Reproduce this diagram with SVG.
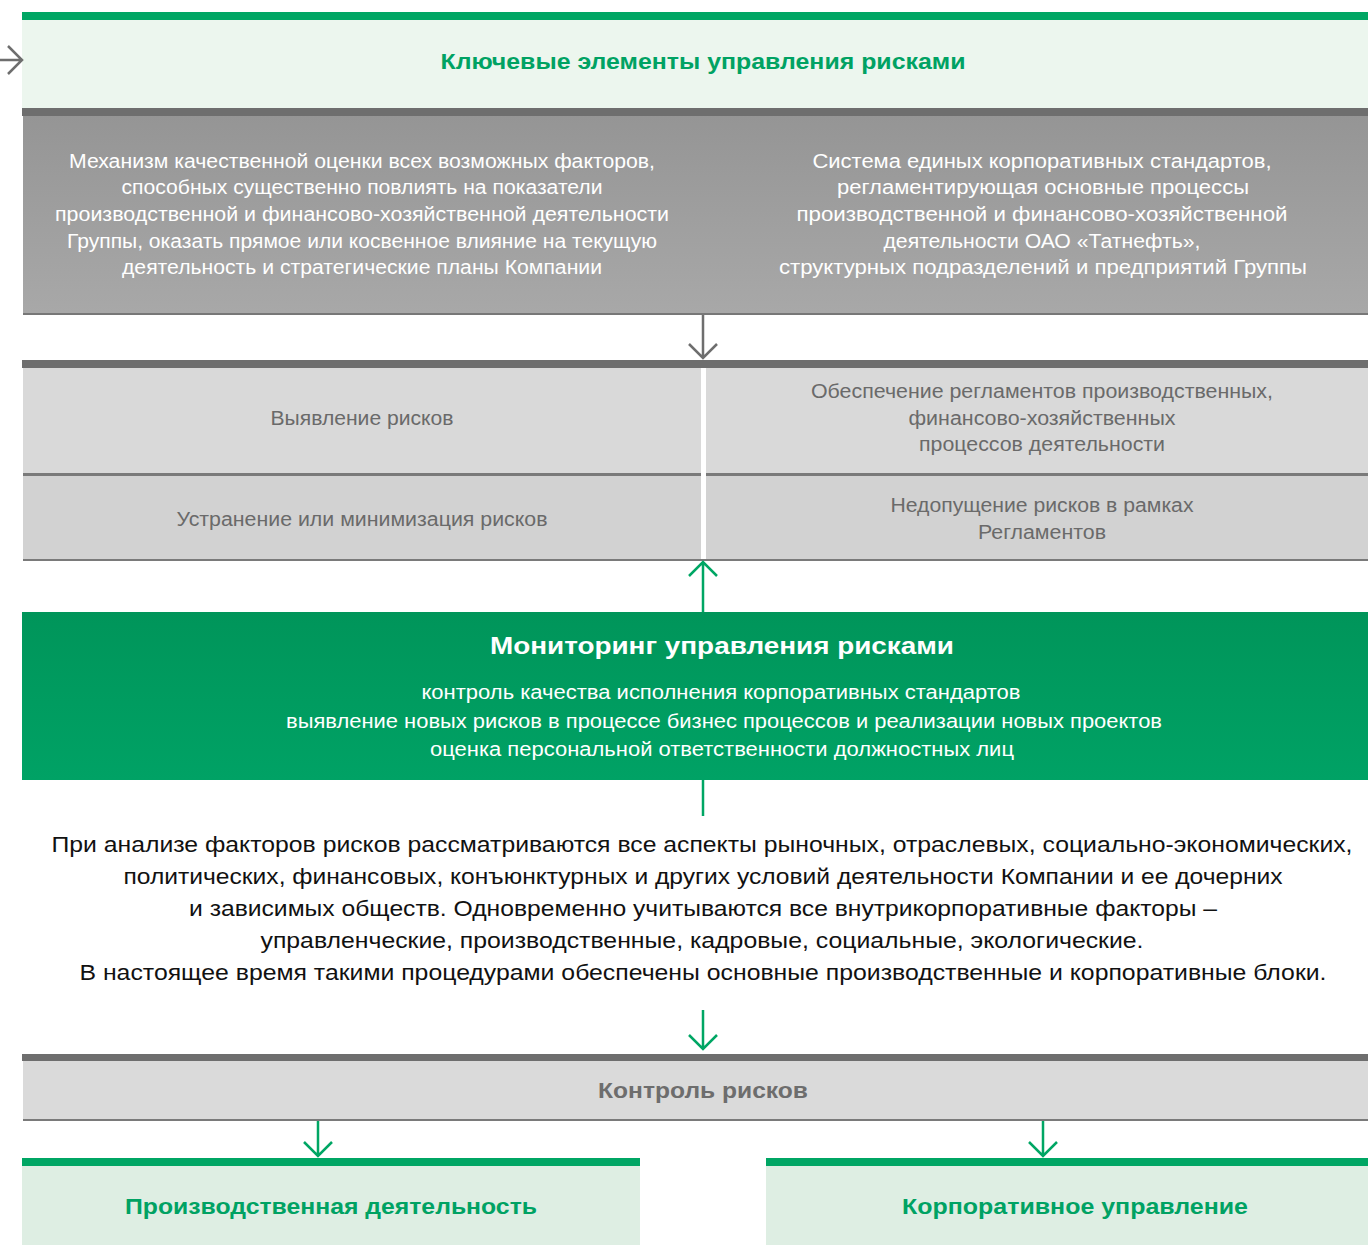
<svg xmlns="http://www.w3.org/2000/svg" width="1368" height="1245" viewBox="0 0 1368 1245">
  <style>
    text { font-family: "Liberation Sans", Arial, sans-serif; text-anchor: middle; }
    .t-green { fill: #00a263; font-weight: bold; font-size: 22px; }
    .t-white { fill: #ffffff; font-size: 20px; }
    .t-gray { fill: #6a6a6a; font-size: 20px; }
    .t-wtitle { fill: #ffffff; font-weight: bold; font-size: 24px; }
    .t-black { fill: #111111; font-size: 22px; }
    .t-gtitle { fill: #6d6d6d; font-weight: bold; font-size: 22px; }
    .c-gray { stroke: #6e6e6e; stroke-width: 2.5; fill: none; }
    .c-green { stroke: #00a664; stroke-width: 2.5; fill: none; }
  </style>
  <defs>
    <linearGradient id="gMon" x1="0" y1="0" x2="0" y2="1">
      <stop offset="0" stop-color="#00955a"/>
      <stop offset="1" stop-color="#00a265"/>
    </linearGradient>
    <linearGradient id="gTop" x1="0" y1="0" x2="0" y2="1">
      <stop offset="0" stop-color="#959595"/>
      <stop offset="1" stop-color="#a8a8a8"/>
    </linearGradient>
  </defs>
  <rect width="1368" height="1245" fill="#ffffff"/>

  <g id="header">
    <rect x="22" y="12" width="1346" height="8" fill="#00a664"/>
    <rect x="22" y="20" width="1346" height="88" fill="#ecf6ee"/>
    <text class="t-green" x="703" y="69" textLength="525" lengthAdjust="spacingAndGlyphs">Ключевые элементы управления рисками</text>
  </g>

  <g id="top-band">
    <rect x="22" y="108" width="1346" height="8" fill="#6e6e6e"/>
    <rect x="23" y="116" width="1345" height="197" fill="url(#gTop)"/>
    <rect x="23" y="313" width="1345" height="2" fill="#777777"/>
  </g>

  <g id="mechanism">
    <text class="t-white" x="362" y="168" textLength="586" lengthAdjust="spacingAndGlyphs">Механизм качественной оценки всех возможных факторов,</text>
    <text class="t-white" x="362" y="194" textLength="481" lengthAdjust="spacingAndGlyphs">способных существенно повлиять на показатели</text>
    <text class="t-white" x="362" y="221" textLength="614" lengthAdjust="spacingAndGlyphs">производственной и финансово-хозяйственной деятельности</text>
    <text class="t-white" x="362" y="248" textLength="590" lengthAdjust="spacingAndGlyphs">Группы, оказать прямое или косвенное влияние на текущую</text>
    <text class="t-white" x="362" y="274" textLength="480" lengthAdjust="spacingAndGlyphs">деятельность и стратегические планы Компании</text>
  </g>

  <g id="standards">
    <text class="t-white" x="1042" y="168" textLength="459" lengthAdjust="spacingAndGlyphs">Система единых корпоративных стандартов,</text>
    <text class="t-white" x="1043" y="194" textLength="412" lengthAdjust="spacingAndGlyphs">регламентирующая основные процессы</text>
    <text class="t-white" x="1042" y="221" textLength="491" lengthAdjust="spacingAndGlyphs">производственной и финансово-хозяйственной</text>
    <text class="t-white" x="1042" y="248" textLength="317" lengthAdjust="spacingAndGlyphs">деятельности ОАО «Татнефть»,</text>
    <text class="t-white" x="1043" y="274" textLength="528" lengthAdjust="spacingAndGlyphs">структурных подразделений и предприятий Группы</text>
  </g>

  <g id="mid-band">
    <rect x="22" y="360" width="1346" height="8" fill="#6e6e6e"/>
    <rect x="23" y="368" width="1345" height="106" fill="#d9d9d9"/>
    <rect x="23" y="476" width="1345" height="83" fill="#d2d2d2"/>
    <rect x="23" y="473" width="1345" height="3" fill="#7a7a7a"/>
    <rect x="23" y="559" width="1345" height="2" fill="#7a7a7a"/>
    <rect x="701" y="368" width="5" height="191" fill="#ffffff"/>
  </g>

  <g id="identify">
    <text class="t-gray" x="362" y="425" textLength="183" lengthAdjust="spacingAndGlyphs">Выявление рисков</text>
  </g>
  <g id="regulations">
    <text class="t-gray" x="1042" y="398" textLength="462" lengthAdjust="spacingAndGlyphs">Обеспечение регламентов производственных,</text>
    <text class="t-gray" x="1042" y="425" textLength="267" lengthAdjust="spacingAndGlyphs">финансово-хозяйственных</text>
    <text class="t-gray" x="1042" y="451" textLength="246" lengthAdjust="spacingAndGlyphs">процессов деятельности</text>
  </g>
  <g id="eliminate">
    <text class="t-gray" x="362" y="526" textLength="371" lengthAdjust="spacingAndGlyphs">Устранение или минимизация рисков</text>
  </g>
  <g id="prevent">
    <text class="t-gray" x="1042" y="512" textLength="303" lengthAdjust="spacingAndGlyphs">Недопущение рисков в рамках</text>
    <text class="t-gray" x="1042" y="539" textLength="128" lengthAdjust="spacingAndGlyphs">Регламентов</text>
  </g>

  <g id="monitoring">
    <rect x="22" y="612" width="1346" height="168" fill="url(#gMon)"/>
    <text class="t-wtitle" x="722" y="654" textLength="464" lengthAdjust="spacingAndGlyphs">Мониторинг управления рисками</text>
    <text class="t-white" x="721" y="699" textLength="599" lengthAdjust="spacingAndGlyphs">контроль качества исполнения корпоративных стандартов</text>
    <text class="t-white" x="724" y="728" textLength="876" lengthAdjust="spacingAndGlyphs">выявление новых рисков в процессе бизнес процессов и реализации новых проектов</text>
    <text class="t-white" x="722" y="756" textLength="584" lengthAdjust="spacingAndGlyphs">оценка персональной ответственности должностных лиц</text>
  </g>

  <g id="analysis">
    <text class="t-black" x="702" y="852" textLength="1301" lengthAdjust="spacingAndGlyphs">При анализе факторов рисков рассматриваются все аспекты рыночных, отраслевых, социально-экономических,</text>
    <text class="t-black" x="703" y="884" textLength="1159" lengthAdjust="spacingAndGlyphs">политических, финансовых, конъюнктурных и других условий деятельности Компании и ее дочерних</text>
    <text class="t-black" x="703" y="916" textLength="1028" lengthAdjust="spacingAndGlyphs">и зависимых обществ. Одновременно учитываются все внутрикорпоративные факторы –</text>
    <text class="t-black" x="702" y="948" textLength="883" lengthAdjust="spacingAndGlyphs">управленческие, производственные, кадровые, социальные, экологические.</text>
    <text class="t-black" x="703" y="980" textLength="1247" lengthAdjust="spacingAndGlyphs">В настоящее время такими процедурами обеспечены основные производственные и корпоративные блоки.</text>
  </g>

  <g id="control">
    <rect x="22" y="1054" width="1346" height="7" fill="#6e6e6e"/>
    <rect x="23" y="1061" width="1345" height="58" fill="#dadada"/>
    <rect x="23" y="1119" width="1345" height="2" fill="#7a7a7a"/>
    <text class="t-gtitle" x="703" y="1098" textLength="210" lengthAdjust="spacingAndGlyphs">Контроль рисков</text>
  </g>

  <g id="production">
    <rect x="22" y="1158" width="618" height="8" fill="#00a664"/>
    <rect x="22" y="1166" width="618" height="79" fill="#deeee3"/>
    <text class="t-green" x="331" y="1214" textLength="412" lengthAdjust="spacingAndGlyphs">Производственная деятельность</text>
  </g>

  <g id="corporate">
    <rect x="766" y="1158" width="602" height="8" fill="#00a664"/>
    <rect x="766" y="1166" width="602" height="79" fill="#deeee3"/>
    <text class="t-green" x="1075" y="1214" textLength="346" lengthAdjust="spacingAndGlyphs">Корпоративное управление</text>
  </g>

  <g id="connectors">
    <path class="c-gray" d="M0 60 H22 M8 46 L22 60 L8 74"/>
    <path class="c-gray" d="M703 315 V358 M689 344 L703 358 L717 344"/>
    <path class="c-green" d="M703 612 V562 M689 576 L703 562 L717 576"/>
    <path class="c-green" d="M703 780 V816"/>
    <path class="c-green" d="M703 1010 V1049 M689 1035 L703 1049 L717 1035"/>
    <path class="c-green" d="M318 1121 V1156 M304 1142 L318 1156 L332 1142"/>
    <path class="c-green" d="M1043 1121 V1156 M1029 1142 L1043 1156 L1057 1142"/>
  </g>
</svg>
